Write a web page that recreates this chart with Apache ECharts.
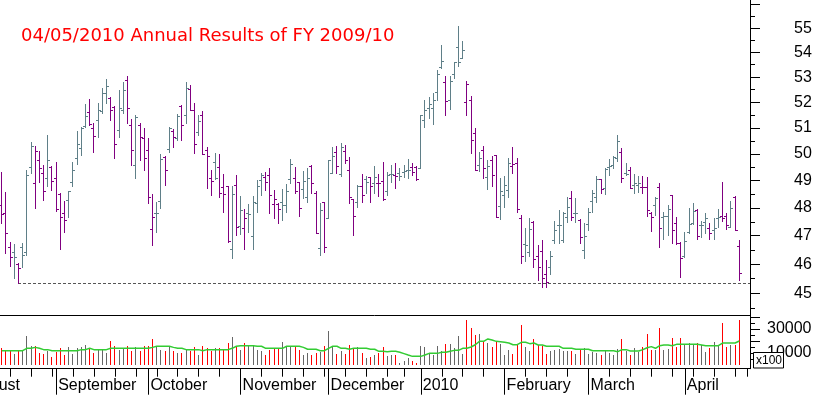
<!DOCTYPE html>
<html><head><meta charset="utf-8">
<script src="https://cdn.jsdelivr.net/npm/echarts@6/dist/echarts.min.js"></script>
<style>html,body{margin:0;padding:0;background:#fff}#c{width:817px;height:395px}</style>
</head><body><div id="c"></div>
<script>
const titleText = '04/05/2010 Annual Results of FY 2009/10';

const opens = [48.10,47.81,46.60,46.42,46.00,46.60,46.42,49.51,48.91,49.77,49.29,49.10,49.51,49.10,48.51,47.81,48.29,48.95,49.85,50.23,
51.07,51.62,51.00,51.31,51.66,52.37,52.17,51.82,50.92,51.70,52.88,51.11,49.59,51.11,50.61,50.15,47.24,47.81,48.25,49.89,
50.19,50.88,50.61,51.86,51.50,52.53,51.70,50.84,51.50,50.15,49.10,49.70,49.51,48.76,48.80,46.53,48.84,47.34,47.27,47.81,
46.99,48.18,49.02,49.14,49.21,48.14,48.14,48.21,48.10,49.06,49.10,48.95,48.69,48.40,49.55,48.54,46.56,48.21,47.63,49.29,
50.08,49.25,50.11,49.40,48.32,48.21,48.80,49.06,49.14,48.91,48.91,48.99,48.62,49.25,49.21,49.29,49.32,49.40,49.51,49.51,
49.47,51.31,51.78,51.78,52.41,53.41,52.81,52.09,53.12,54.23,53.78,52.01,52.09,50.80,49.59,50.15,49.14,49.77,49.96,48.07,
48.47,48.65,49.55,49.66,47.63,46.70,46.42,47.49,46.28,46.46,45.66,45.90,46.85,47.38,46.85,47.68,48.36,47.81,47.56,46.49,
47.41,48.25,48.41,49.05,48.73,49.50,49.59,49.85,50.08,49.27,49.40,48.85,48.84,48.78,48.76,47.80,48.10,48.78,47.66,47.70,
48.47,47.44,46.75,46.28,47.14,47.44,47.92,47.38,47.50,47.26,47.20,47.62,47.70,47.70,47.32,48.39,46.64];
const highs = [49.32,48.58,46.77,46.70,46.04,46.74,49.40,50.46,50.31,50.11,49.59,50.73,49.55,49.70,48.54,48.25,48.62,49.70,50.88,51.04,
51.93,52.13,51.19,51.97,52.57,52.92,52.21,51.86,52.49,52.81,53.04,51.35,51.50,51.19,51.00,50.61,48.51,48.21,50.00,49.92,
51.04,50.96,51.54,51.89,52.81,52.69,51.97,51.50,51.66,50.27,49.40,50.04,50.00,49.25,48.80,48.80,49.21,48.43,47.96,48.14,
48.43,49.02,49.29,49.32,49.47,48.65,48.18,48.69,48.87,49.81,49.51,48.95,49.36,49.47,49.59,48.62,48.18,48.21,49.77,50.27,
50.31,50.42,50.34,49.89,48.32,48.84,49.25,49.17,49.14,49.55,49.25,49.70,49.32,49.59,49.66,49.47,49.59,49.81,49.66,49.55,
51.50,52.09,52.21,52.37,53.29,54.31,53.04,53.04,53.61,55.10,54.48,52.85,52.25,51.00,50.08,50.31,49.77,49.92,49.96,49.10,
49.17,49.85,50.27,49.85,47.74,47.27,47.63,47.52,46.67,46.85,46.14,46.46,47.52,47.92,47.85,48.40,48.62,48.36,47.59,47.44,
48.00,48.65,49.17,49.08,49.47,49.80,49.92,50.73,50.23,49.65,49.52,49.25,49.17,49.17,49.14,47.86,48.41,48.90,47.86,48.10,
48.47,47.68,46.79,47.14,47.98,48.17,47.95,47.54,47.82,47.44,47.62,47.95,48.94,47.80,48.25,48.43,46.85];
const lows = [47.45,46.39,45.93,45.52,45.34,45.90,46.32,49.29,47.99,48.95,48.29,48.80,48.65,47.88,46.53,47.13,47.67,48.80,49.62,49.96,
51.04,51.11,50.08,50.65,51.58,51.97,51.31,49.85,50.65,51.58,51.19,49.59,49.10,49.77,49.40,48.18,46.67,47.13,47.99,48.84,
50.08,50.27,50.54,50.54,51.19,51.70,50.04,50.73,50.00,48.73,48.47,49.06,48.40,47.85,46.77,46.21,47.02,47.06,46.53,47.13,
46.53,47.85,48.47,48.65,47.81,47.63,47.45,47.56,47.85,48.91,48.54,47.70,48.36,48.21,48.54,47.09,46.32,46.42,47.63,49.29,
49.29,49.17,49.66,48.18,47.02,48.03,48.21,48.54,48.21,48.54,48.43,48.29,48.47,48.95,48.73,49.02,49.14,49.10,49.21,49.02,
49.47,51.04,51.39,51.15,52.09,53.37,51.50,51.74,52.96,53.45,53.78,51.50,50.04,49.40,49.36,49.10,48.69,48.80,47.67,47.60,
48.03,48.40,49.29,47.85,46.04,46.11,46.28,45.90,45.45,45.21,45.21,45.66,46.74,46.74,46.78,47.50,47.56,47.49,46.75,46.20,
47.20,47.86,48.22,48.53,48.51,49.21,49.46,49.74,48.95,49.21,48.72,48.55,48.59,48.53,47.71,47.18,47.74,46.59,46.90,47.02,
46.73,46.70,45.57,46.26,47.11,47.42,46.90,46.94,47.10,46.87,46.90,47.30,47.51,47.23,47.30,47.20,45.45];
const closes = [47.78,47.09,46.25,46.25,45.86,46.32,49.21,50.31,50.11,49.47,48.62,49.77,48.99,47.96,47.67,47.56,48.62,49.40,50.38,51.00,
51.46,51.15,50.69,51.70,52.37,52.65,51.70,50.38,51.78,52.49,51.78,50.15,51.43,50.65,49.85,48.40,47.67,47.81,49.81,49.40,
51.00,50.65,51.46,51.11,52.57,51.70,50.38,51.27,50.00,49.92,48.99,49.10,48.54,48.51,46.81,48.51,47.31,47.92,47.63,47.78,
48.21,48.80,49.21,48.95,48.47,48.32,47.96,48.10,48.62,49.62,48.62,47.99,48.99,49.10,48.91,47.09,47.92,46.60,49.77,49.92,
49.55,50.27,49.77,48.40,47.70,48.80,48.47,48.95,48.80,49.14,48.91,48.32,49.21,49.25,49.17,49.17,49.36,49.40,49.32,49.06,
51.50,51.70,51.93,52.09,53.12,53.65,52.05,52.85,53.61,53.61,54.10,52.73,50.54,49.40,49.85,49.47,49.55,49.21,47.67,48.62,
48.84,49.66,49.62,47.96,46.28,46.67,47.24,46.18,45.90,45.52,45.38,46.28,47.20,47.38,47.80,48.04,47.66,47.81,46.94,46.99,
47.84,48.53,49.05,48.68,49.44,49.55,49.88,50.50,49.10,49.25,48.72,48.90,48.92,48.75,47.92,47.68,48.35,47.28,47.70,47.95,
47.20,46.73,46.20,46.82,47.41,47.90,46.99,47.38,47.62,47.08,47.26,47.68,47.62,47.38,47.98,47.22,45.70];
const volumes = [13900,11700,11700,8900,11700,11700,23900,15600,15600,9700,8900,11700,6400,10600,13900,8100,14700,8900,13900,14700,
16400,13900,9700,12200,12200,9700,19700,15600,12200,13900,15600,11400,14700,11400,15600,15600,21400,14700,12200,11400,
14700,11400,9700,9700,13100,11400,14700,8100,15600,13900,11400,13900,13900,13100,18100,23100,15600,12200,18100,16400,
16100,12500,11400,8100,12200,13100,13100,18900,15600,15600,15600,12200,8100,9700,8100,9700,10600,15600,28100,15600,
8900,11400,8900,16400,13900,14700,9700,5600,6400,8100,9700,14700,7200,8100,8100,1400,3100,5600,3100,1400,
15600,14700,9700,8100,15600,11400,17200,17200,13900,23900,8900,37200,30600,24700,25600,19700,18100,14700,19700,17200,
8100,12200,8900,17200,33100,14700,11400,21400,16400,15600,8900,11400,12200,13100,11400,11400,11400,8900,12200,13900,
8900,10600,9700,8100,11400,9700,8100,13100,21400,11400,8100,13900,10600,14700,25600,12200,12200,30600,12200,13100,
22200,14700,22200,16400,18100,16400,18100,16400,10600,13900,18900,15600,34700,14700,16400,16400,37200];
const volumeMA = [11900,11900,11900,11900,11900,11900,13900,13900,14700,13900,12800,12800,11900,11900,11900,11900,11900,11900,11900,12800,
12800,13900,12800,12800,12800,12800,13900,13900,13900,13900,13900,13900,13900,13900,13900,13900,14700,15600,15600,15600,
15600,14700,13900,13900,12800,12800,12800,12800,11900,12800,12800,12800,12800,12800,12800,13900,15600,16100,16100,16100,
16100,15600,15600,13900,13900,13900,13900,13900,15600,15600,15600,15600,14700,13100,13100,13100,11900,11900,13900,15600,
15600,13900,13900,13100,13900,13900,13900,13900,13100,13100,11400,11400,11000,11400,11400,10600,9500,8300,7200,7200,
7200,8300,9700,9700,9700,10600,10600,11400,12200,12200,13900,13900,15000,16900,19700,19700,21700,20800,19700,19400,
18900,18300,16900,16900,18900,18900,17800,18300,16700,16700,15600,15600,15600,15600,13900,13900,13900,13100,13100,13100,
13100,11900,11900,11900,11900,11900,11900,11100,12800,12800,11700,11700,11700,12800,14400,15300,13900,16100,16700,16700,
16100,17200,17200,17200,17200,17200,17200,16700,16100,16100,16100,16100,18300,18300,18300,18300,20000];

const monthStarts = [-8, 13, 35, 57, 78, 100, 120, 140, 163];
const monthLabels = ['August', 'September', 'October', 'November', 'December', '2010', 'February', 'March', 'April'];
const weekTicks = [2,7,12,17,22,27,32,37,42,47,52,62,67,72,77,82,87,92,96,105,110,115,125,130,135,145,150,155,160,165,170,175,178];
const priceLabels = [45,46,47,48,49,50,51,52,53,54,55];
const priceMajorTicks = [45,46,47,48,49,50,51,52,53,54,55,56];
const priceMinorTicks = [44.5,45.5,46.5,47.5,48.5,49.5,50.5,51.5,52.5,53.5,54.5,55.5];
const volLabels = [10000, 30000];
const volMajorTicks = [10000, 20000, 30000, 40000];
const volMinorTicks = [5000, 15000, 25000, 35000];
const supportIndex = 4;

const X_MIN = -8, X_MAX = 178.55;
const P_MIN = 44.26, P_MAX = 56.19;
const V_MIN = -3083, V_MAX = 41667;
const UP = '#5f7f88', DOWN = '#800080';
const V_UP = '#666666', V_DOWN = '#ff0000';
const FONT = '"Liberation Sans", Arial, sans-serif';

const up = closes.map((c, i) => i === 0 ? c >= opens[0] : c >= closes[i - 1]);

function ohlcItem(params, api) {
  const i = api.value(0);
  const o = api.coord([i, api.value(1)]);
  const h = api.coord([i, api.value(2)]);
  const l = api.coord([i, api.value(3)]);
  const c = api.coord([i, api.value(4)]);
  const xi = Math.floor(h[0]);
  const st = { stroke: up[params.dataIndex] ? UP : DOWN, lineWidth: 1 };
  const yo = Math.round(o[1]) + 0.5, yc = Math.round(c[1]) + 0.5;
  return { type: 'group', children: [
    { type: 'line', shape: { x1: xi + 0.5, y1: Math.round(h[1]), x2: xi + 0.5, y2: Math.round(l[1]) + 1 }, style: st },
    { type: 'line', shape: { x1: xi - 2, y1: yo, x2: xi + 1, y2: yo }, style: st },
    { type: 'line', shape: { x1: xi, y1: yc, x2: xi + 3, y2: yc }, style: st }
  ]};
}
function volItem(params, api) {
  const i = api.value(0);
  const t = api.coord([i, api.value(1)]);
  const b = api.coord([i, 0]);
  const x = Math.floor(t[0]) + 0.5;
  return { type: 'line', shape: { x1: x, y1: Math.round(b[1]), x2: x, y2: Math.round(t[1]) },
    style: { stroke: up[params.dataIndex] ? V_UP : V_DOWN, lineWidth: 1 } };
}
function supportItem(params, api) {
  const a = api.coord([api.value(0), api.value(1)]);
  const b = api.coord([X_MAX, api.value(1)]);
  const y = Math.round(a[1]) + 0.5;
  return { type: 'line', shape: { x1: Math.floor(a[0]), y1: y, x2: b[0], y2: y },
    style: { stroke: '#555555', lineWidth: 1, lineDash: [3, 2] } };
}

const axisLineBlack = { show: true, onZero: false, lineStyle: { color: '#000', width: 1 } };
const gridL = -31.83;

const option = {
  animation: false,
  backgroundColor: '#ffffff',
  title: { text: titleText, left: 16, top: 22,
    textStyle: { color: '#ff0000', fontSize: 18, fontWeight: 'normal', fontFamily: '"DejaVu Sans", Verdana, sans-serif' } },
  grid: [
    { left: gridL, right: 67, top: 0, height: 315, containLabel: false, outerBoundsMode: 'none' },
    { left: gridL, right: 67, top: 315, height: 53.7, containLabel: false, outerBoundsMode: 'none' }
  ],
  xAxis: [
    { gridIndex: 0, type: 'value', min: X_MIN, max: X_MAX, axisLine: axisLineBlack,
      axisTick: { show: false }, axisLabel: { show: false }, splitLine: { show: false } },
    { gridIndex: 1, type: 'value', min: X_MIN, max: X_MAX, position: 'bottom', axisLine: axisLineBlack,
      axisTick: { show: true, length: 26, customValues: monthStarts, lineStyle: { color: '#000' } },
      axisLabel: { show: true, customValues: monthStarts, align: 'left', margin: 9, padding: [0, 0, 0, 2],
        fontSize: 16, fontFamily: FONT, color: '#000',
        formatter: v => { const k = monthStarts.indexOf(Math.round(v)); return k >= 0 ? monthLabels[k] : ''; } },
      splitLine: { show: false } },
    { gridIndex: 1, type: 'value', min: X_MIN, max: X_MAX, position: 'bottom', axisLine: { show: false, onZero: false },
      axisTick: { show: true, length: 8, customValues: weekTicks, lineStyle: { color: '#000' } },
      axisLabel: { show: false }, splitLine: { show: false } }
  ],
  yAxis: [
    { gridIndex: 0, type: 'log', logBase: 10, min: P_MIN, max: P_MAX, position: 'right', axisLine: axisLineBlack,
      axisTick: { show: true, length: 10, customValues: priceMajorTicks, lineStyle: { color: '#000' } },
      axisLabel: { show: true, customValues: priceLabels, margin: 44, fontSize: 16, fontFamily: FONT, color: '#000',
        formatter: v => String(Math.round(v)) },
      splitLine: { show: false } },
    { gridIndex: 0, type: 'log', logBase: 10, min: P_MIN, max: P_MAX, position: 'right', axisLine: { show: false, onZero: false },
      axisTick: { show: true, length: 5, customValues: priceMinorTicks, lineStyle: { color: '#000' } },
      axisLabel: { show: false }, splitLine: { show: false } },
    { gridIndex: 1, type: 'value', min: V_MIN, max: V_MAX, position: 'right', axisLine: axisLineBlack,
      axisTick: { show: true, length: 10, customValues: volMajorTicks, lineStyle: { color: '#000' } },
      axisLabel: { show: true, customValues: volLabels, margin: 17, fontSize: 16, fontFamily: FONT, color: '#000',
        formatter: v => String(Math.round(v)) },
      splitLine: { show: false } },
    { gridIndex: 1, type: 'value', min: V_MIN, max: V_MAX, position: 'right', axisLine: { show: false, onZero: false },
      axisTick: { show: true, length: 5, customValues: volMinorTicks, lineStyle: { color: '#000' } },
      axisLabel: { show: false }, splitLine: { show: false } }
  ],
  graphic: [
    { type: 'rect', z: 100, shape: { x: 753.5, y: 352.5, width: 30, height: 15.5 },
      style: { fill: '#ffffff', stroke: '#000000', lineWidth: 1 } },
    { type: 'text', z: 101, x: 756, y: 354.5, style: { text: 'x100', font: '12px "Liberation Sans", Arial', fill: '#000' } }
  ],
  series: [
    { type: 'custom', name: 'support', xAxisIndex: 0, yAxisIndex: 0, renderItem: supportItem, silent: true, z: 1,
      encode: { x: 0, y: 1 },
      data: [[supportIndex, lows[supportIndex]]] },
    { type: 'custom', name: 'price', xAxisIndex: 0, yAxisIndex: 0, renderItem: ohlcItem, silent: true, z: 2,
      encode: { x: 0, y: [1, 2, 3, 4] },
      data: opens.map((o, i) => [i, o, highs[i], lows[i], closes[i]]) },
    { type: 'custom', name: 'volume', xAxisIndex: 1, yAxisIndex: 2, renderItem: volItem, silent: true,
      encode: { x: 0, y: 1 },
      data: volumes.map((v, i) => [i, v]) },
    { type: 'line', name: 'volMA', xAxisIndex: 1, yAxisIndex: 2, symbol: 'none', silent: true,
      lineStyle: { color: '#33cc33', width: 1.5 },
      data: volumeMA.map((v, i) => [i, v]) }
  ]
};
const chart = echarts.init(document.getElementById('c'), null, { renderer: 'canvas' });
chart.setOption(option);
</script></body></html>
